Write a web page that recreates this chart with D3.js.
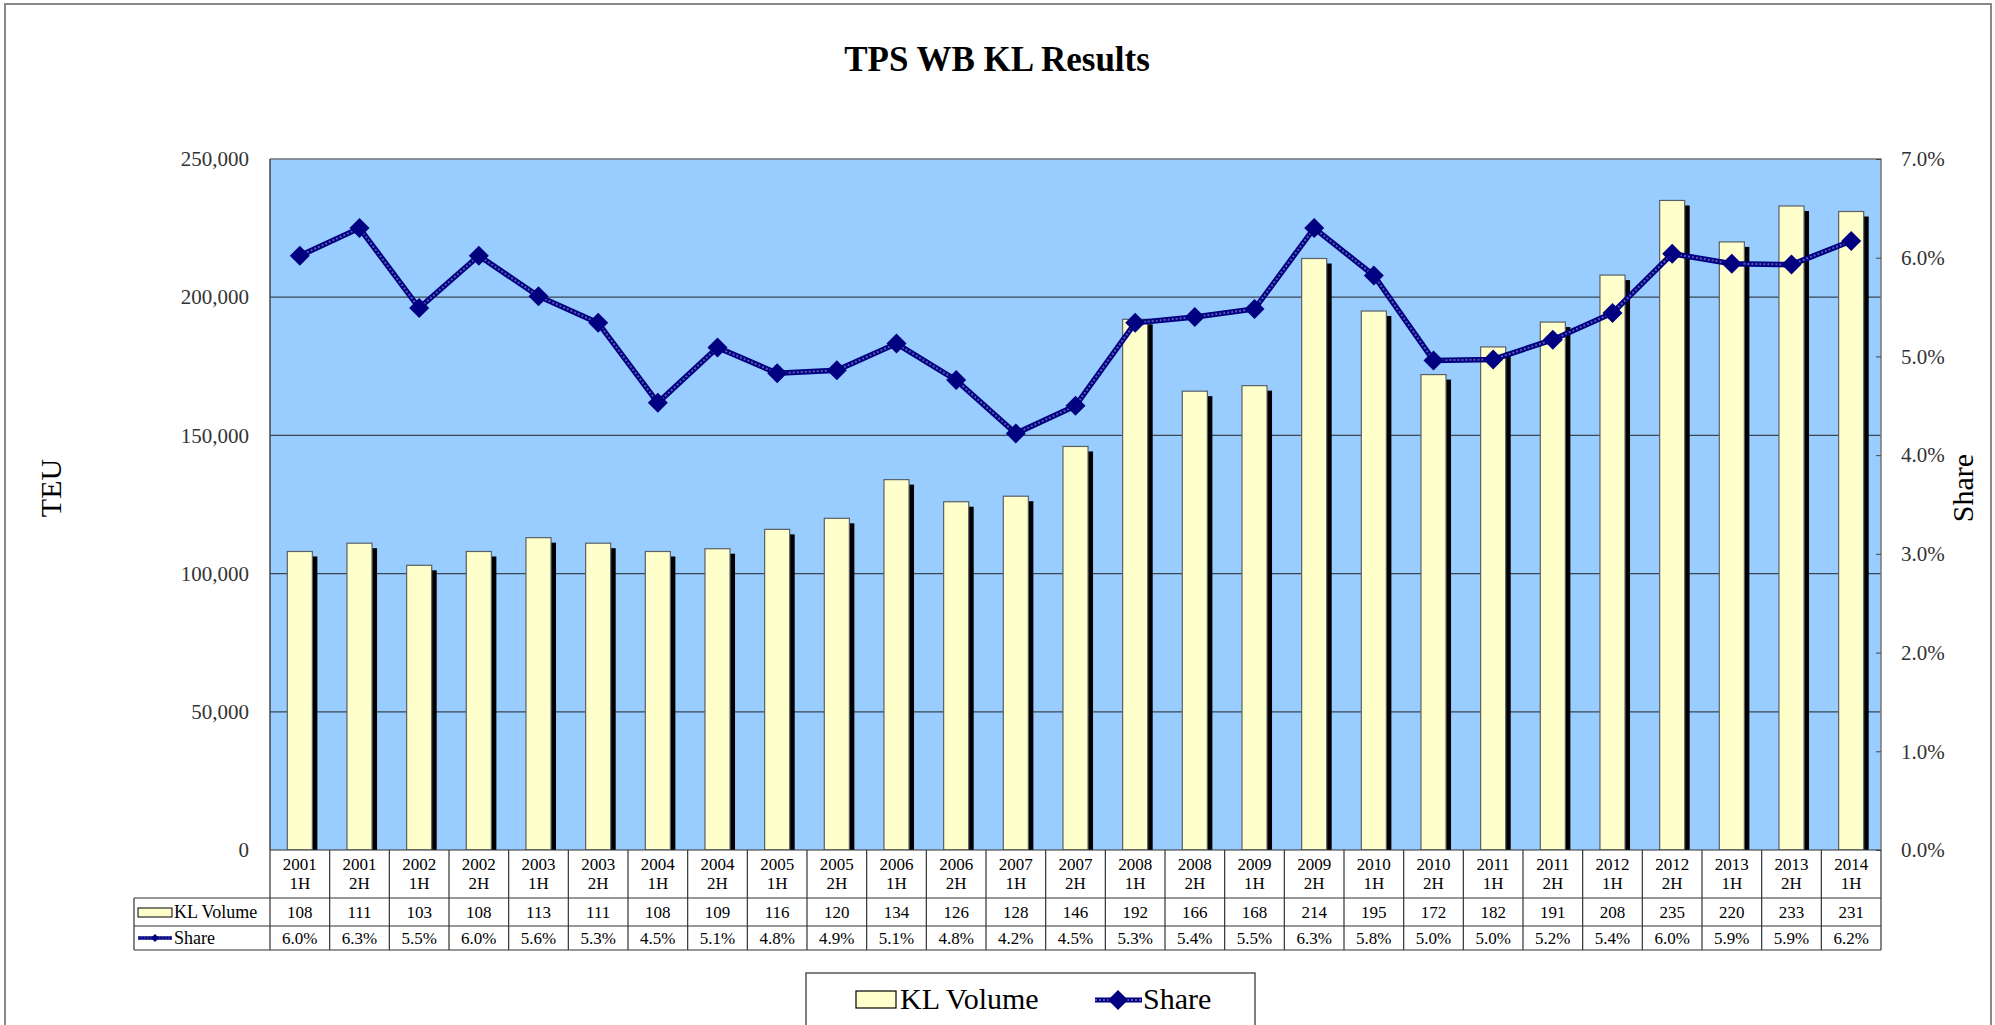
<!DOCTYPE html>
<html>
<head>
<meta charset="utf-8">
<script src="https://cdn.jsdelivr.net/npm/d3@7"></script>
<style>
  body { margin: 0; background: #fff; }
  text { font-family: "Liberation Serif", "Times New Roman", serif; }
</style>
</head>
<body>
<svg id="chart"></svg>
<script>
// half-year periods, KL volume (TEU) and market share
const periods = ["2001 1H", "2001 2H", "2002 1H", "2002 2H", "2003 1H", "2003 2H", "2004 1H", "2004 2H",
  "2005 1H", "2005 2H", "2006 1H", "2006 2H", "2007 1H", "2007 2H", "2008 1H", "2008 2H", "2009 1H",
  "2009 2H", "2010 1H", "2010 2H", "2011 1H", "2011 2H", "2012 1H", "2012 2H", "2013 1H", "2013 2H", "2014 1H"];
const klVolume = [108000, 111000, 103000, 108000, 113000, 111000, 108000, 109000, 116000, 120000, 134000,
  126000, 128000, 146000, 192000, 166000, 168000, 214000, 195000, 172000, 182000, 191000, 208000, 235000,
  220000, 233000, 231000];
const share = [0.0602, 0.0630, 0.0549, 0.0602, 0.0561, 0.0534, 0.0453, 0.0509, 0.0483, 0.0486, 0.0513,
  0.0476, 0.0422, 0.0450, 0.0534, 0.0540, 0.0548, 0.0630, 0.0582, 0.0496, 0.0497, 0.0517, 0.0544, 0.0604,
  0.0594, 0.0593, 0.0617];
const volumeTicks = [0, 50000, 100000, 150000, 200000, 250000];
const shareTicks = [0, 0.01, 0.02, 0.03, 0.04, 0.05, 0.06, 0.07];

const width = 1995;
const height = 1025;
const plot = { left: 270, right: 1881, top: 159, bottom: 850 };
const rowH = [48, 28, 24];  // category row, volume row, share row

const svg = d3.select("#chart")
    .attr("width", width)
    .attr("height", height);

// outer frame
svg.append("rect")
    .attr("x", 5).attr("y", 4)
    .attr("width", width - 9).attr("height", height + 20)
    .attr("fill", "none")
    .attr("stroke", "#888")
    .attr("stroke-width", 2);

svg.append("text")
    .attr("x", 997).attr("y", 71)
    .attr("text-anchor", "middle")
    .attr("font-size", 35)
    .attr("font-weight", "bold")
    .text("TPS WB KL Results");

const x = d3.scaleBand()
    .domain(periods)
    .range([plot.left, plot.right]);

const y = d3.scaleLinear()
    .domain([0, 250000])
    .range([plot.bottom, plot.top]);

const y2 = d3.scaleLinear()
    .domain([0, 0.07])
    .range([plot.bottom, plot.top]);

// plot background
svg.append("rect")
    .attr("x", plot.left).attr("y", plot.top)
    .attr("width", plot.right - plot.left)
    .attr("height", plot.bottom - plot.top)
    .attr("fill", "#99CCFF");

// gridlines
svg.selectAll(".grid")
    .data(volumeTicks.slice(1, -1))
    .enter()
    .append("line")
    .attr("x1", plot.left).attr("x2", plot.right)
    .attr("y1", d => y(d)).attr("y2", d => y(d))
    .attr("stroke", "#3a4652")
    .attr("stroke-width", 1.3);

// bars with drop shadow
const barW = x.bandwidth() * 0.42;
svg.append("clipPath").attr("id", "plotclip")
    .append("rect")
    .attr("x", plot.left).attr("y", plot.top)
    .attr("width", plot.right - plot.left)
    .attr("height", plot.bottom - plot.top);

const bars = svg.append("g").attr("clip-path", "url(#plotclip)");

bars.selectAll(".shadow")
    .data(klVolume)
    .enter()
    .append("rect")
    .attr("x", (d, i) => x(periods[i]) + x.bandwidth() / 2 - barW / 2 + 5)
    .attr("y", d => y(d) + 5)
    .attr("width", barW)
    .attr("height", d => y(0) - y(d))
    .attr("fill", "#000");

bars.selectAll(".bar")
    .data(klVolume)
    .enter()
    .append("rect")
    .attr("x", (d, i) => x(periods[i]) + x.bandwidth() / 2 - barW / 2)
    .attr("y", d => y(d))
    .attr("width", barW)
    .attr("height", d => y(0) - y(d))
    .attr("fill", "#FFFFCC")
    .attr("stroke", "#5a6068")
    .attr("stroke-width", 1.2);

// plot frame: top/right light, left axis darker
svg.append("path")
    .attr("d", `M${plot.left},${plot.top}H${plot.right}V${plot.bottom}`)
    .attr("fill", "none")
    .attr("stroke", "#777")
    .attr("stroke-width", 1.5);
svg.append("line")
    .attr("x1", plot.left).attr("x2", plot.left)
    .attr("y1", plot.top).attr("y2", plot.bottom)
    .attr("stroke", "#444")
    .attr("stroke-width", 1.5);

// share line
const line = d3.line()
    .x((d, i) => x(periods[i]) + x.bandwidth() / 2)
    .y(d => y2(d));

svg.append("path")
    .datum(share)
    .attr("d", line)
    .attr("fill", "none")
    .attr("stroke", "#000080")
    .attr("stroke-width", 5.5);
svg.append("path")
    .datum(share)
    .attr("d", line)
    .attr("fill", "none")
    .attr("stroke", "#5a5ab4")
    .attr("stroke-width", 2)
    .attr("stroke-dasharray", "2,2");

const diamond = "M0,-10L10,0L0,10L-10,0Z";
svg.selectAll(".marker")
    .data(share)
    .enter()
    .append("path")
    .attr("d", diamond)
    .attr("transform", (d, i) => `translate(${x(periods[i]) + x.bandwidth() / 2},${y2(d)})`)
    .attr("fill", "#000080");

// axes
const leftAxis = svg.append("g")
    .attr("transform", `translate(${plot.left},0)`)
    .call(d3.axisLeft(y).tickValues(volumeTicks).tickFormat(d3.format(",")).tickSize(0).tickPadding(21));
leftAxis.select(".domain").remove();
leftAxis.selectAll("text")
    .attr("font-size", 21)
    .attr("fill", "#333")
    .style("font-family", "Liberation Serif");

const rightAxis = svg.append("g")
    .attr("transform", `translate(${plot.right},0)`)
    .call(d3.axisRight(y2).tickValues(shareTicks).tickFormat(d3.format(".1%")).tickSize(-5).tickPadding(20));
rightAxis.select(".domain").remove();
rightAxis.selectAll("line").attr("stroke", "#444");
rightAxis.selectAll("text")
    .attr("font-size", 21)
    .attr("fill", "#333")
    .style("font-family", "Liberation Serif");

svg.append("text")
    .attr("transform", "translate(61,488) rotate(-90)")
    .attr("text-anchor", "middle")
    .attr("font-size", 30)
    .text("TEU");

svg.append("text")
    .attr("transform", "translate(1973,488) rotate(-90)")
    .attr("text-anchor", "middle")
    .attr("font-size", 30)
    .text("Share");

// data table under the plot
const t0 = plot.bottom;
const t1 = t0 + rowH[0];
const t2 = t1 + rowH[1];
const t3 = t2 + rowH[2];
const keyLeft = 134;
const table = svg.append("g");
const gridStroke = "#333";

table.selectAll(".hline")
    .data([[plot.left, t0], [keyLeft, t1], [keyLeft, t2], [keyLeft, t3]])
    .enter()
    .append("line")
    .attr("x1", d => d[0]).attr("x2", plot.right)
    .attr("y1", d => d[1]).attr("y2", d => d[1])
    .attr("stroke", gridStroke)
    .attr("stroke-width", 1.2);

table.selectAll(".vline")
    .data(periods.concat(["end"]))
    .enter()
    .append("line")
    .attr("x1", d => d === "end" ? plot.right : x(d))
    .attr("x2", d => d === "end" ? plot.right : x(d))
    .attr("y1", t0).attr("y2", t3)
    .attr("stroke", gridStroke)
    .attr("stroke-width", 1.2);

table.append("line")
    .attr("x1", keyLeft).attr("x2", keyLeft)
    .attr("y1", t1).attr("y2", t3)
    .attr("stroke", gridStroke)
    .attr("stroke-width", 1.2);

periods.forEach(p => {
    const [yr, half] = p.split(" ");
    const cx = x(p) + x.bandwidth() / 2;
    table.append("text")
        .attr("x", cx).attr("y", t0 + 20)
        .attr("text-anchor", "middle")
        .attr("font-size", 17)
        .text(yr);
    table.append("text")
        .attr("x", cx).attr("y", t0 + 39)
        .attr("text-anchor", "middle")
        .attr("font-size", 17)
        .text(half);
});

table.selectAll(".vol")
    .data(klVolume)
    .enter()
    .append("text")
    .attr("x", (d, i) => x(periods[i]) + x.bandwidth() / 2)
    .attr("y", t1 + 20)
    .attr("text-anchor", "middle")
    .attr("font-size", 17)
    .text(d => Math.round(d / 1000));

table.selectAll(".shr")
    .data(share)
    .enter()
    .append("text")
    .attr("x", (d, i) => x(periods[i]) + x.bandwidth() / 2)
    .attr("y", t2 + 18)
    .attr("text-anchor", "middle")
    .attr("font-size", 17)
    .text(d => d3.format(".1%")(d));

// legend keys inside the table
table.append("rect")
    .attr("x", keyLeft + 4).attr("y", t1 + 10)
    .attr("width", 34).attr("height", 9)
    .attr("fill", "#FFFFCC")
    .attr("stroke", "#000");
table.append("text")
    .attr("x", keyLeft + 40).attr("y", t1 + 20)
    .attr("font-size", 18)
    .text("KL Volume");
table.append("line")
    .attr("x1", keyLeft + 4).attr("x2", keyLeft + 38)
    .attr("y1", t2 + 12).attr("y2", t2 + 12)
    .attr("stroke", "#000080").attr("stroke-width", 3.5);
table.append("line")
    .attr("x1", keyLeft + 4).attr("x2", keyLeft + 38)
    .attr("y1", t2 + 12).attr("y2", t2 + 12)
    .attr("stroke", "#5a5ab4").attr("stroke-width", 1.2)
    .attr("stroke-dasharray", "1.5,1.5");
table.append("path")
    .attr("d", "M0,-4L4,0L0,4L-4,0Z")
    .attr("transform", `translate(${keyLeft + 21},${t2 + 12})`)
    .attr("fill", "#000080");
table.append("text")
    .attr("x", keyLeft + 40).attr("y", t2 + 18)
    .attr("font-size", 18)
    .text("Share");

// legend box
const legend = svg.append("g");
legend.append("rect")
    .attr("x", 806).attr("y", 973)
    .attr("width", 449).attr("height", 80)
    .attr("fill", "#fff")
    .attr("stroke", "#555")
    .attr("stroke-width", 1.5);
legend.append("rect")
    .attr("x", 856).attr("y", 991)
    .attr("width", 40).attr("height", 17)
    .attr("fill", "#FFFFCC")
    .attr("stroke", "#000")
    .attr("stroke-width", 1.2);
legend.append("text")
    .attr("x", 900).attr("y", 1009)
    .attr("font-size", 30)
    .text("KL Volume");
legend.append("line")
    .attr("x1", 1095).attr("x2", 1142)
    .attr("y1", 1000).attr("y2", 1000)
    .attr("stroke", "#000080").attr("stroke-width", 5);
legend.append("line")
    .attr("x1", 1095).attr("x2", 1142)
    .attr("y1", 1000).attr("y2", 1000)
    .attr("stroke", "#5a5ab4").attr("stroke-width", 2)
    .attr("stroke-dasharray", "2,2");
legend.append("path")
    .attr("d", diamond)
    .attr("transform", "translate(1118,1000)")
    .attr("fill", "#000080");
legend.append("text")
    .attr("x", 1143).attr("y", 1009)
    .attr("font-size", 30)
    .text("Share");
</script>
</body>
</html>
